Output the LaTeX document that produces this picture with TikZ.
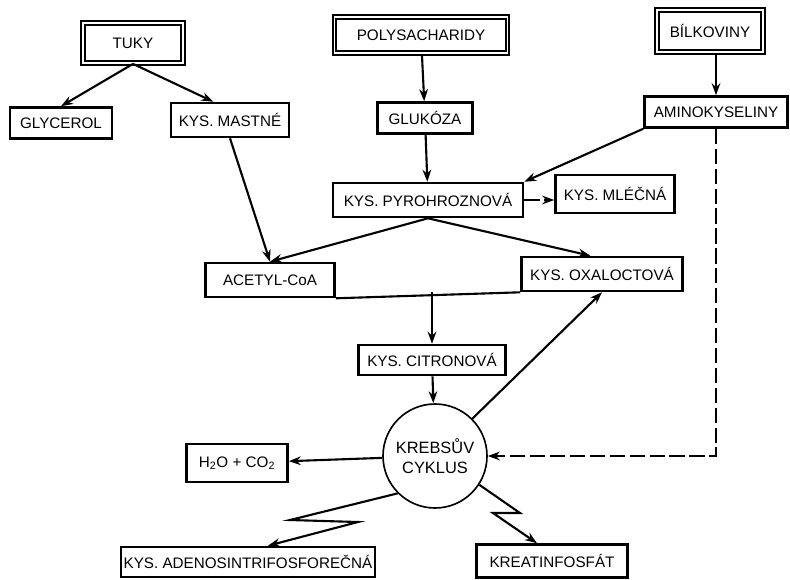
\documentclass[tikz,border=0pt]{standalone}
\usepackage{fontspec}
\setmainfont{Liberation Sans}
\usetikzlibrary{positioning,arrows.meta,calc}

\begin{document}
\begin{tikzpicture}[x=0.03cm,y=-0.03cm,
    box/.style={rectangle,draw,line width=2.2pt,inner sep=2pt,font=\fontsize{13}{15}\selectfont},
    srcbox/.style={box,double,double distance=1.5pt,line width=1.5pt},
    ring/.style={circle,draw,line width=1.4pt,minimum size=3.12cm,align=center,font=\fontsize{14}{17}\selectfont},
    arrow/.style={-{Stealth[length=3.6mm,width=2.6mm]},line width=1.8pt},
    dasharrow/.style={arrow,dash pattern=on 13pt off 4pt}
]
\useasboundingbox (0,0) rectangle (790,579);

% Sources (top row)
\node[srcbox,minimum width=3.0cm,minimum height=1.2cm] (tuky) at (133,43) {TUKY};
\node[srcbox,minimum width=5.19cm,minimum height=1.08cm] (polysach) at (421,35) {POLYSACHARIDY};
\node[srcbox,minimum width=3.18cm,minimum height=1.26cm] (bilkoviny) at (710,31) {BÍLKOVINY};

% Breakdown products
\node[box,minimum width=3.06cm,minimum height=0.93cm] (glycerol) at (61,123) {GLYCEROL};
\node[box,minimum width=3.54cm,minimum height=1.02cm] (mastne) at (230,120) {KYS. MASTNÉ};
\node[box,minimum width=2.85cm,minimum height=0.93cm] (glukoza) at (425,118) {GLUKÓZA};
\node[box,minimum width=4.29cm,minimum height=0.93cm] (amino) at (716,112) {AMINOKYSELINY};

% Middle
\node[box,minimum width=5.7cm,minimum height=1.02cm] (pyro) at (428,200) {KYS. PYROHROZNOVÁ};
\node[box,minimum width=3.57cm,minimum height=1.14cm] (mlecna) at (615,194) {KYS. MLÉČNÁ};
\node[box,minimum width=3.87cm,minimum height=1.02cm] (acetyl) at (270,280) {ACETYL-CoA};
\node[box,minimum width=4.83cm,minimum height=1.02cm] (oxal) at (602,274) {KYS. OXALOCTOVÁ};
\node[box,minimum width=4.41cm,minimum height=0.9cm] (citron) at (432,360) {KYS. CITRONOVÁ};

% Krebs cycle and products
\node[ring] (krebs) at (435,456) {KREBSŮV\\CYKLUS};
\node[box,minimum width=3.03cm,minimum height=1.14cm] (h2o) at (237,463) {H\textsubscript{2}O + CO\textsubscript{2}};
\node[box,minimum width=7.62cm,minimum height=0.9cm] (atp) at (248,562) {KYS. ADENOSINTRIFOSFOREČNÁ};
\node[box,minimum width=4.53cm,minimum height=0.99cm] (kreatin) at (552,561) {KREATINFOSFÁT};

% Arrows from sources
\draw[arrow] (tuky.south) -- (glycerol.north);
\draw[arrow] (tuky.south) -- ([xshift=-0.5cm]mastne.north);
\draw[arrow] (polysach) -- (glukoza);
\draw[arrow] (glukoza) -- (pyro);
\draw[arrow] (bilkoviny.south -| amino.south) -- (amino.north);
\draw[arrow] (amino.south west) -- (pyro.north east);
\draw[dasharrow,line width=1.4pt] (amino.south) |- (krebs.east);

% Pyruvate branches
\draw[dasharrow,line width=1.4pt] (pyro.east) -- (mlecna.west |- pyro.east);
\draw[arrow] (mastne.south) -- (acetyl.north);
\draw[arrow] (pyro.south) -- (acetyl.north);
\draw[arrow] (pyro.south) -- ([xshift=-0.35cm]oxal.north);

% Into the cycle
\coordinate (merge) at (citron.north |- oxal.south);
\draw[line width=1.8pt] (acetyl.south east) -- (oxal.south west);
\draw[arrow] (merge) -- (citron.north);
\draw[arrow] (citron) -- (krebs);
\draw[arrow] (krebs.45) -- (oxal.south);

% Out of the cycle
\draw[arrow] (krebs) -- (h2o);
\draw[arrow] (krebs.225) -- (290,520) -- (358,522) -- ([xshift=0.6cm]atp.north);
\draw[arrow] (krebs.-33) -- (520,513) -- (493,513) -- ([xshift=-0.45cm]kreatin.north);

\end{tikzpicture}
\end{document}
